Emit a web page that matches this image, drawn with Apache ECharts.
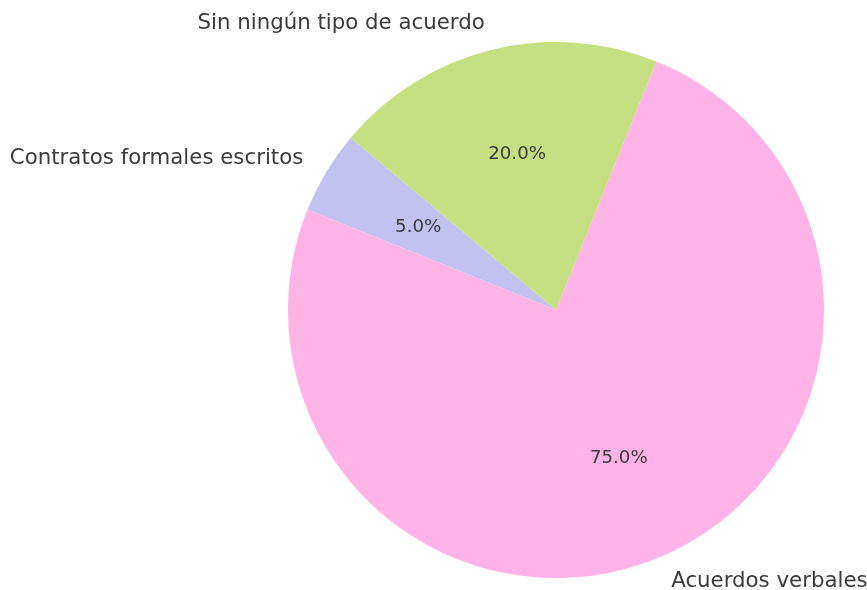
<!DOCTYPE html>
<html>
<head>
<meta charset="utf-8">
<script src="https://cdn.jsdelivr.net/npm/echarts@6/dist/echarts.min.js"></script>
<style>
  html, body { margin: 0; padding: 0; background: #fff; }
  #chart { width: 867px; height: 590px; }
</style>
</head>
<body>
<div id="chart"></div>
<script>
// data, in drawing order (counter-clockwise from 140 deg)
const categories = ["Contratos formales escritos", "Acuerdos verbales", "Sin ningún tipo de acuerdo"];
const values = [5, 75, 20];
const colors = ["#c2c2f0", "#ffb3e6", "#c4e080"];

const center = [556, 310];
const R = 268;
const textColor = "#3b3b3b";
const font = "DejaVu Sans";

const chart = echarts.init(document.getElementById("chart"));

const pieData = categories.map((name, i) => ({
  name: name,
  value: values[i],
  itemStyle: { color: colors[i] },
}));

chart.setOption({
  backgroundColor: "#fff",
  animation: false,
  series: [
    {
      // wedges + outer labels (at 1.1 R)
      type: "pie",
      center: center,
      radius: [0, R],
      startAngle: 140,
      clockwise: false,
      avoidLabelOverlap: false,
      silent: true,
      data: pieData,
      label: {
        show: true,
        position: "outside",
        color: textColor,
        fontFamily: font,
        fontSize: 21.3,
        distanceToLabelLine: 0,
      },
      labelLine: { show: false, length: R * 0.1, length2: 0 },
    },
    {
      // percent labels (at 0.6 R)
      type: "pie",
      center: center,
      radius: [R * 1.2 - R - 6, R],
      startAngle: 140,
      clockwise: false,
      avoidLabelOverlap: false,
      silent: true,
      data: categories.map((name, i) => ({
        name: name,
        value: values[i],
        itemStyle: { color: "rgba(0,0,0,0)" },
      })),
      label: {
        show: true,
        position: "inside",
        color: textColor,
        fontFamily: font,
        fontSize: 18.2,
        formatter: (p) => p.percent.toFixed(1) + "%",
      },
      labelLine: { show: false },
    },
  ],
});
</script>
</body>
</html>
